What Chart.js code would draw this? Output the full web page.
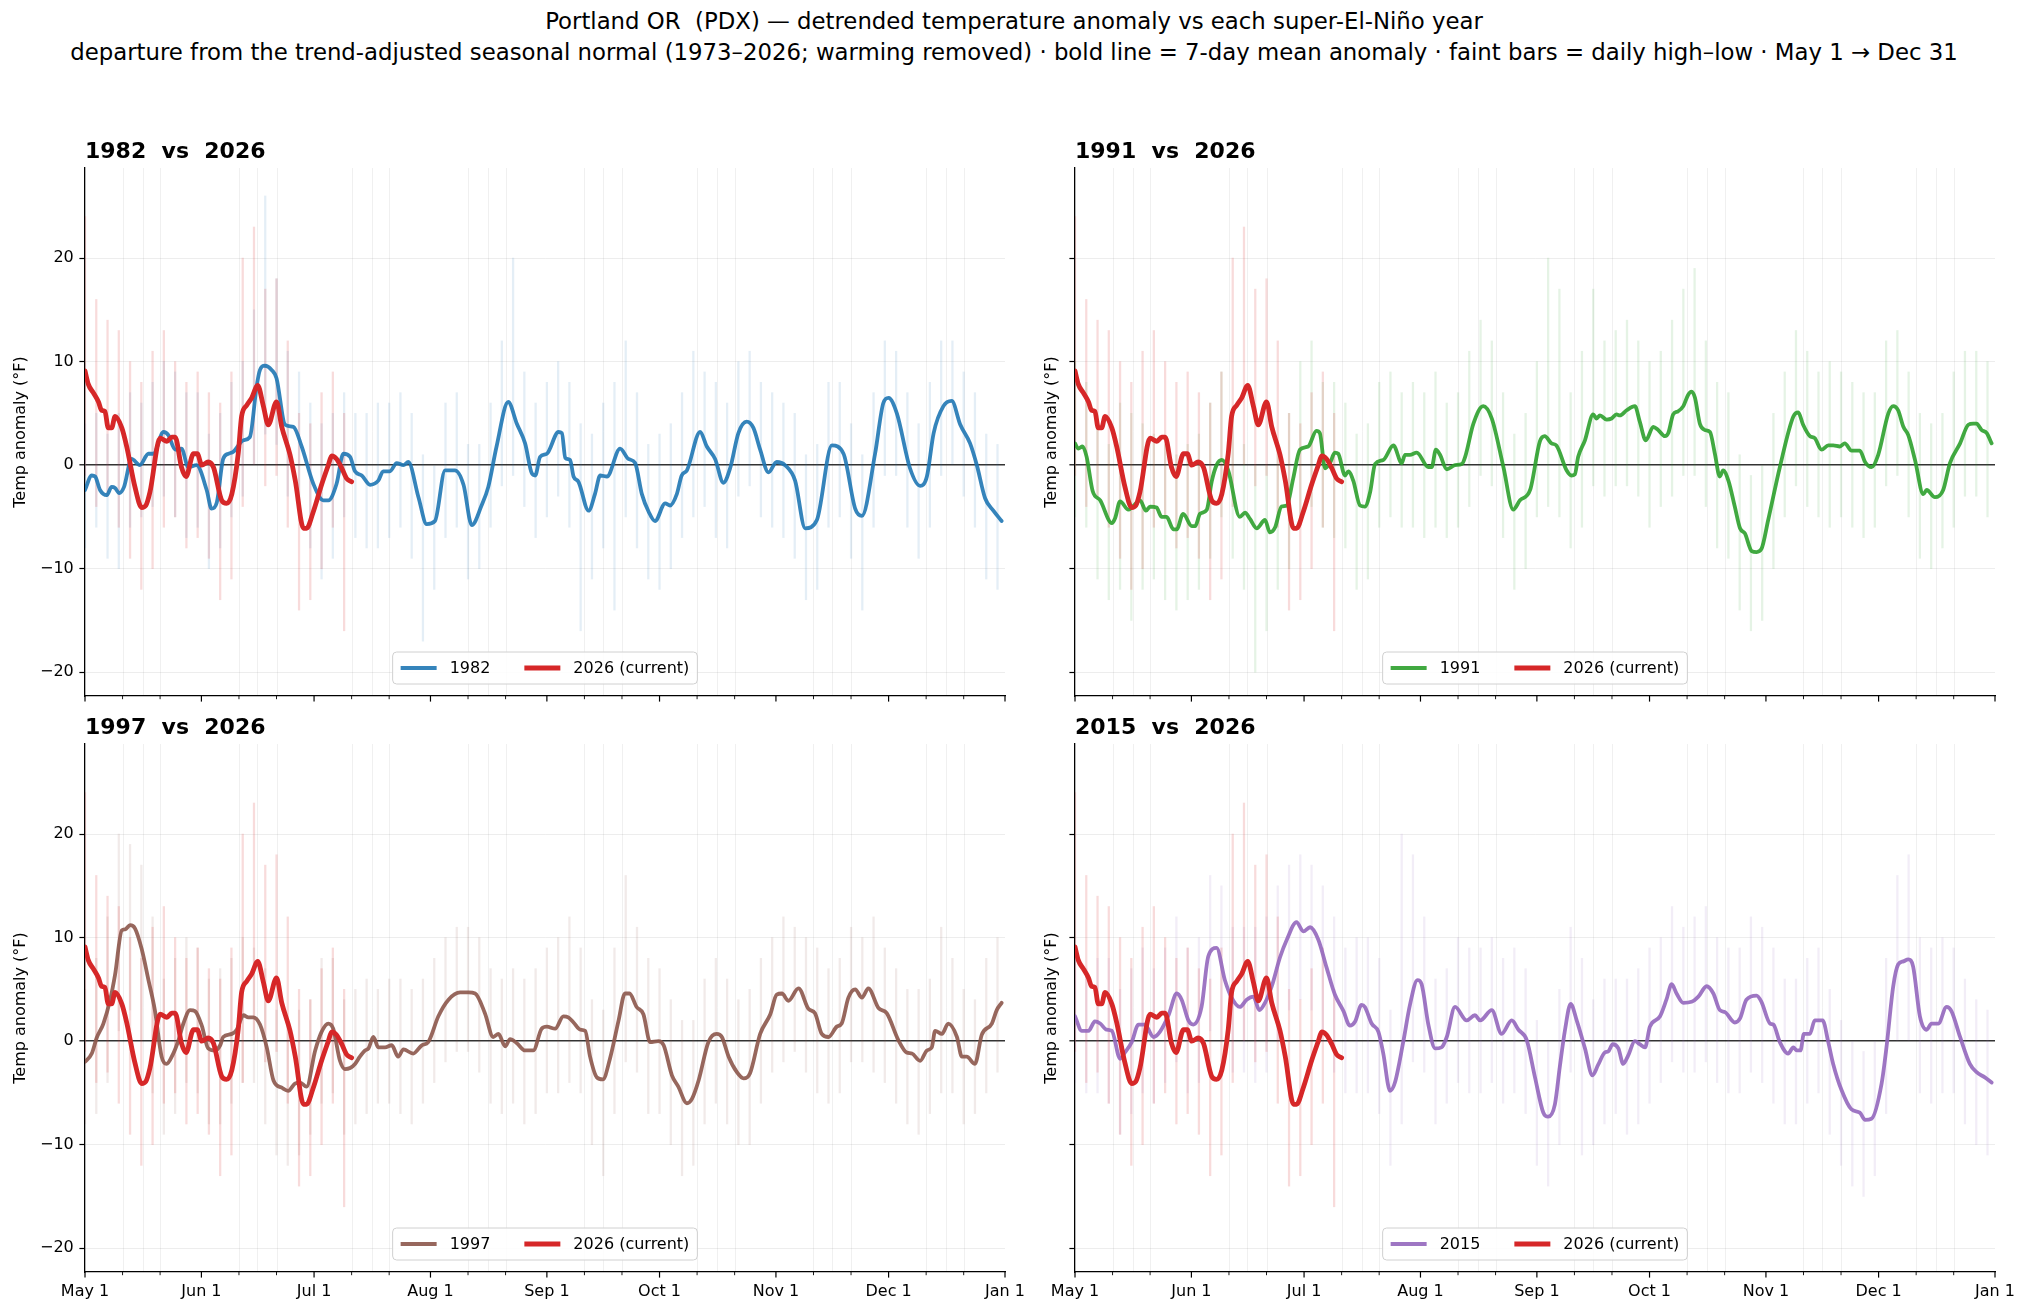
<!DOCTYPE html>
<html>
<head>
<meta charset="utf-8">
<script src="https://cdn.jsdelivr.net/npm/chart.js@4.4.1/dist/chart.umd.min.js"></script>
<style>
  html, body { margin: 0; padding: 0; background: #fff; }
  body { width: 2028px; height: 1312px; position: relative; overflow: hidden; font-family: "DejaVu Sans", sans-serif; }
  .sup { position: absolute; left: 0; width: 2028px; text-align: center; font-size: 22.8px; line-height: 27px; color: #000; white-space: pre; }
  canvas { position: absolute; }
</style>
</head>
<body>
<div class="sup" style="top:8px">Portland OR  (PDX) — detrended temperature anomaly vs each super-El-Niño year</div>
<div class="sup" style="top:39px">departure from the trend-adjusted seasonal normal (1973–2026; warming removed) · bold line = 7-day mean anomaly · faint bars = daily high–low · May 1 → Dec 31</div>
<canvas id="p1982"></canvas>
<canvas id="p1991"></canvas>
<canvas id="p1997"></canvas>
<canvas id="p2015"></canvas>
<script>
/* ---- axis ticks (day 0 = May 1) ---- */
const monthDays = [0, 31, 61, 92, 123, 153, 184, 214, 245];
const monthLabels = ['May 1', 'Jun 1', 'Jul 1', 'Aug 1', 'Sep 1', 'Oct 1', 'Nov 1', 'Dec 1', 'Jan 1'];
const minorDays = [10, 20, 41, 51, 71, 81, 102, 112, 133, 143, 163, 173, 194, 204, 224, 234];
const yTicks = [-20, -10, 0, 10, 20];
const Y_MIN = -22.3, Y_MAX = 28.7;

/* ---- 7-day mean anomaly, [day, °F] ---- */
const line2026 = [[0,9.1],[0.9,7.8],[2.2,7.0],[3.6,6.1],[4.4,5.3],[5.3,5.2],[6.2,3.6],[7.1,3.6],[8,4.7],[9.8,3.6],[11.1,1.8],[13.3,-2.1],[15.1,-4.1],[16.2,-3.9],[17.3,-2.6],[20,2.6],[21.8,2.3],[23.1,2.7],[24,2.7],[25.7,-0.2],[26.9,-1.1],[28.9,1.1],[29.9,1.1],[31.1,0],[32.8,0.3],[34.2,-0.2],[36.4,-3.4],[37.7,-3.7],[39.1,-2.8],[40.8,1.1],[41.7,4.7],[43.1,5.8],[44.4,6.5],[46,7.7],[47.5,5.7],[48.8,3.9],[51,6.1],[52.4,3.7],[54.6,1.0],[56,-1.5],[58.2,-6.1],[59,-6.1],[60.8,-4.5],[63,-1.9],[64.8,0],[65.7,0.9],[67,0.6],[68.4,-0.3],[69.7,-1.3],[71,-1.6]];

const line1982 = [[0,-2.4],[1.8,-1.0],[2.7,-1.1],[4,-2.4],[5.8,-2.9],[7.1,-2.1],[8,-2.2],[9.1,-2.7],[10.4,-2.1],[12.4,0.6],[14.6,0],[16.9,1.1],[18.2,1.1],[20.9,3.2],[22.2,2.9],[24,1.5],[25.7,1.6],[27.5,-0.2],[29.7,0],[32.4,-2.4],[33.7,-4.2],[35.1,-3.6],[36.8,0.6],[38.2,1.1],[39.5,1.3],[42.2,2.4],[43.9,2.7],[45.7,7.6],[46.6,9.2],[47.9,9.6],[49.7,9.2],[51,8.4],[53.3,3.9],[55.5,3.7],[57.7,1.8],[60.8,-1.8],[63.5,-3.4],[64.8,-3.4],[67,-1.8],[68.8,1.1],[70.6,0.8],[71.9,-0.6],[73.7,-1.0],[75.9,-1.9],[78.1,-1.5],[79.4,-0.6],[81.2,-0.6],[83,0.2],[84.8,0],[86.1,0.3],[88.8,-3.1],[91,-5.7],[93.2,-5.4],[95.9,-0.5],[98.5,-0.5],[100.8,-1.9],[103,-5.8],[105.6,-3.9],[107.4,-2.1],[109.6,1.8],[112.7,6.1],[115,4.0],[117.2,2.1],[119,-0.8],[119.9,-1.0],[121.2,0.8],[123,1.1],[126.1,3.2],[127,3.1],[127.9,0.7],[129.2,0.5],[130.1,-1.1],[131.4,-1.6],[134.1,-4.4],[135.8,-2.8],[137.2,-1.0],[139,-1.1],[142.5,1.6],[144.7,0.6],[146.5,0.2],[148.3,-2.8],[150.1,-4.5],[151.8,-5.4],[154.5,-3.7],[155.8,-3.9],[157.6,-2.8],[158.9,-1.0],[160.3,-0.5],[163.8,3.2],[165.6,1.8],[167.8,0.6],[170,-1.7],[171.8,-0.3],[174,3.1],[176.2,4.2],[178,3.6],[179.8,1.5],[182,-0.7],[184.2,0.3],[186.4,0],[189.1,-1.5],[191.8,-6.1],[194.9,-5.3],[198.9,1.9],[202,1.1],[205.1,-4.2],[206.9,-4.9],[210.4,1.1],[212.6,6.0],[214,6.5],[216.2,5.0],[219.7,-0.3],[222.4,-2.0],[224.2,-1.1],[226,3.1],[228.6,5.7],[230.8,6.2],[233.1,3.9],[235.7,2.1],[237.5,0],[239.7,-3.2],[241.9,-4.4],[244.1,-5.4]];

const line1991 = [[0,2.1],[0.9,1.6],[2,1.8],[3.1,0.8],[4.7,-2.5],[6.7,-3.4],[9.8,-5.6],[10.7,-5.1],[12,-3.5],[14.2,-4.3],[15.1,-4.1],[17.3,-3.4],[18.9,-4.4],[20,-4.0],[21.7,-4.1],[23.1,-5.0],[24.4,-5.0],[26.2,-6.2],[27.1,-6.2],[28.8,-4.7],[31.1,-5.9],[32,-5.9],[33.3,-4.7],[35.1,-4.3],[36.4,-1.6],[37.7,0],[39.1,0.5],[40.8,-0.5],[43.9,-5.0],[45.3,-4.6],[46.6,-5.2],[48.4,-6.1],[50.6,-5.3],[51.9,-6.5],[53.3,-6.0],[55,-4.0],[56.4,-3.9],[58.1,-1.3],[59.9,1.5],[62.1,1.8],[64.3,3.3],[65.2,3.1],[66.6,-0.3],[67.9,0.2],[69.2,1.2],[70.1,1.1],[71.9,-1.0],[72.8,-0.6],[74.1,-1.5],[75.9,-3.9],[77.2,-4.0],[78.6,-2.6],[79.9,0.1],[82.1,0.5],[84.8,1.9],[87,0.2],[87.9,1.0],[89.2,1.0],[91,1.2],[94.1,-0.2],[95,-0.2],[96.1,1.5],[97.2,1.0],[99,-0.4],[101.2,0],[103,0.1],[103.9,0.8],[106.1,4.0],[108.7,5.7],[111,4.5],[114.1,-0.2],[116.7,-4.3],[118.5,-3.4],[121.2,-2.4],[123.8,2.3],[125.1,2.8],[126.9,2.1],[128.2,1.9],[130.9,-0.5],[132.2,-1.0],[133.1,-0.9],[134,0.8],[135.8,2.4],[138,4.9],[138.9,4.5],[139.8,4.8],[141.6,4.4],[142.9,4.5],[144.2,4.9],[145.1,4.8],[146.9,5.3],[149.1,5.7],[150.4,4.2],[152,2.4],[154,3.7],[155.3,3.4],[157.1,2.8],[158,3.1],[159.3,4.9],[160.6,5.2],[162,5.7],[163.3,6.8],[164.2,7.1],[165.1,6.5],[166.4,4.0],[167.7,3.4],[169.1,3.2],[170.4,1.1],[171.7,-1.1],[172.6,-0.5],[174,-1.5],[175.7,-4.0],[177.1,-6.1],[178.4,-6.6],[180.2,-8.3],[181.5,-8.4],[182.8,-8.1],[184.6,-5.3],[187.7,-0.2],[191.3,4.7],[192.6,5.1],[193.9,3.9],[195.7,2.8],[197,2.6],[198.8,1.5],[200.6,1.9],[201.9,1.9],[203.7,1.8],[205,2.1],[206.8,1.4],[209,1.4],[210.4,0.3],[212.1,-0.2],[213.9,1.0],[216.6,5.0],[217.9,5.7],[219.2,5.3],[220.6,3.7],[221.9,2.9],[223.7,0.5],[225.9,-2.8],[226.8,-2.4],[229,-3.1],[231.2,-2.4],[233,0.2],[235.7,2.1],[237.9,3.9],[239.2,4.0],[240.1,4.0],[241.4,3.4],[242.8,3.1],[244.1,2.1]];

const line1997 = [[0,-2.0],[1.8,-1.2],[3.1,0.3],[4.9,1.7],[6.7,4.0],[8,6.4],[9.8,10.7],[10.7,10.8],[12,11.2],[13.3,10.9],[15.1,8.9],[16.9,5.9],[18.6,3.0],[20.4,-1.5],[21.7,-2.2],[23.5,-1.2],[24.9,0.1],[26.2,1.7],[28,3.0],[29.3,2.9],[31.1,1.5],[32.8,-0.7],[34.6,-0.9],[36,-0.4],[36.8,0.4],[39.1,0.7],[40.4,1.1],[42.2,2.5],[43.5,2.3],[44.8,2.3],[46.6,1.6],[48.4,-0.6],[50.2,-3.8],[52.4,-4.5],[54.1,-4.8],[55.9,-4.1],[57.3,-4.0],[59,-4.4],[61.3,-0.9],[63,0.9],[64.8,1.7],[66.1,1.2],[67.9,-1.9],[69.2,-2.7],[70.6,-2.6],[71.9,-2.2],[73.2,-1.5],[74.6,-0.9],[75.5,-0.7],[76.8,0.4],[78.1,-0.6],[79.9,-0.6],[81.7,-0.4],[83.4,-1.5],[84.8,-0.8],[87.4,-1.2],[89.7,-0.4],[91.4,-0.1],[94.1,2.4],[96.8,4.0],[99.9,4.7],[102.1,4.7],[103.9,4.6],[106.5,2.7],[108.7,0.4],[110.1,0.7],[111.9,-0.5],[113.2,0.2],[115,-0.2],[117.2,-0.9],[119.4,-0.9],[121.6,1.2],[123,1.4],[125.2,1.2],[127.4,2.4],[128.7,2.3],[130.1,1.8],[131.9,1.1],[133.2,1.0],[134.5,-1.5],[136.3,-3.5],[137.9,-3.7],[139.8,-1.7],[142.1,2.0],[143.8,4.6],[145,4.6],[146.9,3.3],[148.7,2.6],[150.5,-0.1],[152.7,0],[154.1,-0.4],[156.3,-3.3],[158,-4.4],[160.3,-6.0],[161.6,-5.6],[163.4,-3.8],[166,-0.1],[168.2,0.7],[169.6,0.4],[171.4,-1.5],[173.6,-3.0],[175.4,-3.6],[177.1,-3.1],[179.8,0.7],[182.5,2.6],[184.2,4.5],[185.6,4.6],[187.3,3.9],[190,5.1],[192.7,3.1],[194.4,2.7],[196.2,0.7],[198,0.4],[200.2,1.4],[201.5,1.7],[203.3,4.2],[205.1,5.0],[206.9,4.2],[208.6,5.1],[211.3,3.2],[213.5,2.7],[216.6,0.1],[218.8,-1.1],[220.2,-1.2],[222.4,-1.9],[224.2,-0.9],[225.5,-0.6],[226.4,1.0],[228.2,0.7],[229.9,1.7],[232.2,0.4],[233.5,-1.5],[234.8,-1.5],[237,-2.2],[238.8,0.6],[241.5,1.7],[242.8,3.0],[244.1,3.7]];

const line2015 = [[0,2.4],[1.8,1.0],[3.6,1.0],[5.3,1.9],[6.7,1.7],[8.4,1.1],[9.8,1.0],[12,-1.7],[13.3,-1.1],[15.1,-0.1],[16.9,1.6],[18.6,1.6],[20.9,0.4],[22.6,0.9],[24.9,2.5],[27.1,4.6],[28.4,4.0],[30.2,2.0],[31.5,1.6],[33.7,3.3],[35.5,8.2],[37.7,9.0],[39.9,5.9],[41.7,4.2],[43.9,3.3],[45.7,4.0],[47.5,4.3],[49.1,3.0],[50.6,3.7],[52.4,5.3],[54.6,8.1],[56.4,9.8],[59,11.5],[60.8,10.6],[62.6,11.0],[64.8,9.8],[67,7.1],[69.2,4.5],[71.5,2.9],[73.2,1.5],[74.6,1.9],[76.3,3.5],[77.2,3.3],[79,1.7],[80.8,0.9],[82.1,-1.2],[83.9,-4.8],[85.2,-4.0],[87.4,-0.1],[89.2,3.5],[91.2,5.9],[92.3,5.5],[94.1,1.6],[95.9,-0.7],[97.6,-0.6],[99,0.4],[101.2,3.3],[104.3,2.0],[106.5,2.5],[107.9,2.0],[111,3.0],[113.6,0.7],[116.3,2.0],[118.1,1.1],[120.3,0.1],[122.5,-3.5],[124.7,-6.9],[126,-7.3],[127.8,-6.1],[129.1,-2.5],[130.5,1.1],[132,3.6],[133.6,2.0],[135.8,-0.7],[137.8,-3.3],[139.3,-2.3],[141.1,-1.1],[142,-1.0],[143.2,-0.3],[144.7,-0.7],[146,-2.2],[147.3,-1.4],[149.1,0],[150.4,-0.3],[151.8,-0.6],[153.1,1.4],[155.8,2.4],[157.5,4.0],[158.9,5.5],[160.2,4.6],[162,3.7],[164.2,3.8],[166,4.3],[168.2,5.3],[170,4.6],[171.7,3.0],[173.1,2.8],[175.7,1.8],[177.1,2.2],[178.8,4.0],[181.5,4.4],[182.8,3.8],[185.1,1.7],[186,1.6],[187.7,-0.1],[189.9,-1.2],[191.3,-0.6],[192.2,-0.9],[193.2,-0.9],[194.1,0.7],[195.7,0.7],[197,2.0],[199.1,2.0],[200.6,-0.1],[201.9,-2.2],[204.1,-4.7],[206.8,-6.6],[209,-6.9],[210.4,-7.6],[212.1,-7.5],[214.8,-4.1],[216.1,-0.6],[217.9,5.3],[219.2,7.4],[220.6,7.7],[221.9,7.9],[223.2,7.2],[225,2.4],[226.8,1.1],[228.1,1.7],[229.9,1.7],[232.1,3.3],[233.4,2.9],[235.7,0.4],[238.3,-2.2],[240.1,-3.0],[242.3,-3.5],[244.1,-4.0]];

/* ---- daily high–low anomaly bars (sampled every 3rd day) ---- */
const barDays = [0,3,6,9,12,15,18,21,24,27,30,33,36,39,42,45,48,51,54,57,60,63,66,69,72,75,78,81,84,87,90,93,96,99,102,105,108,111,114,117,120,123,126,129,132,135,138,141,144,147,150,153,156,159,162,165,168,171,174,177,180,183,186,189,192,195,198,201,204,207,210,213,216,219,222,225,228,231,234,237,240,243];

const lo2026 = [-1,-4,-3,-6,-9,-12,-10,-6,-5,-8,-7,-9,-13,-11,-4,0,-2,-1,-6,-14,-13,-10,-6,-16];
const hi2026 = [24,16,14,13,10,8,11,13,10,8,9,7,6,9,20,23,17,18,12,5,4,7,9,5];

const lo1982 = [-8,-6,-9,-10,-6,-5,-4,-3,-5,-7,-6,-10,-8,-5,-3,0,3,2,-3,-4,-8,-11,-9,-5,-7,-8,-8,-7,-6,-9,-17,-12,-7,-6,-11,-10,-6,-2,-1,-4,-7,-5,-3,-6,-16,-11,-8,-14,-5,-8,-11,-12,-10,-7,-5,-4,-7,-8,-3,-2,-5,-6,-7,-9,-13,-12,-6,-5,-9,-14,-6,-1,-1,-6,-9,-6,-1,0,-3,-6,-11,-12];
const hi1982 = [4,5,3,5,7,6,8,10,9,7,7,3,5,8,10,15,26,18,11,9,6,4,5,7,5,5,6,6,7,5,1,0,6,7,2,2,6,12,20,9,6,8,10,8,4,3,6,8,12,7,2,3,4,7,11,9,8,6,10,11,8,7,6,5,1,2,8,8,4,1,7,12,11,7,4,8,12,12,9,7,3,2];

const lo1991 = [-5,-6,-11,-13,-12,-15,-12,-11,-13,-14,-13,-12,-9,-5,-9,-12,-20,-16,-12,-10,-5,-4,-6,-7,-8,-12,-11,-6,-5,-6,-6,-7,-6,-7,-6,-4,-1,-2,-7,-12,-10,-5,-4,-5,-8,-6,-2,-3,-2,-2,-3,-6,-4,-3,-1,-1,-4,-8,-9,-14,-16,-15,-10,-5,-2,-4,-5,-6,-5,-6,-7,-6,-2,-1,-5,-9,-10,-8,-6,-3,-3,-5];
const hi1991 = [10,8,4,2,6,5,4,3,2,1,2,3,6,9,5,2,0,0,2,5,10,12,8,8,6,3,4,8,9,7,8,7,9,6,7,11,14,12,7,3,5,10,20,17,7,11,17,12,13,14,12,10,11,14,17,19,12,8,7,1,-1,0,5,9,13,11,9,10,9,8,7,7,12,13,9,5,4,5,9,11,11,10];

const lo1997 = [-8,-7,-4,1,3,0,-5,-9,-7,-4,-5,-8,-8,-6,-4,-4,-8,-11,-12,-11,-9,-6,-5,-9,-8,-7,-6,-6,-7,-8,-6,-4,-2,-1,-1,-3,-6,-7,-6,-8,-7,-5,-5,-4,-5,-10,-13,-7,-2,-3,-7,-7,-10,-13,-12,-8,-6,-8,-10,-10,-6,-3,-2,-1,-3,-5,-6,-5,-2,-2,-3,-4,-6,-8,-9,-7,-5,-5,-8,-7,-5,-3];
const hi1997 = [5,8,12,20,19,17,12,6,8,10,9,6,7,8,10,9,7,3,2,3,4,8,8,4,5,6,5,6,6,5,6,8,10,11,11,10,7,6,7,6,7,9,10,12,9,4,3,9,16,11,8,7,4,2,2,6,8,6,4,5,8,10,12,11,10,9,7,8,11,10,12,9,7,5,5,6,11,8,5,4,8,10];

const lo2015 = [-4,-5,-5,-6,-9,-7,-5,-6,-4,-2,-5,-4,1,0,-3,-3,-4,-3,0,3,4,3,1,-3,-5,-5,-5,-7,-12,-8,-2,-3,-8,-6,-4,-5,-5,-4,-6,-5,-7,-12,-14,-10,-3,-11,-10,-8,-7,-9,-8,-6,-4,-2,-3,-3,-2,-4,-5,-5,-3,-4,-6,-8,-8,-6,-5,-9,-12,-14,-15,-13,-7,0,0,-5,-6,-5,-5,-8,-10,-11];
const hi2015 = [9,7,8,8,5,7,9,7,9,12,9,10,16,15,11,11,11,12,15,17,18,17,15,12,9,10,10,8,3,20,18,12,6,7,10,9,9,10,8,9,7,2,0,5,11,8,4,6,6,6,7,9,10,13,11,12,13,10,9,9,12,11,9,6,6,8,9,5,2,0,-1,0,8,16,18,10,9,10,9,6,4,3];

const RED = '#d62728';
const FONT = '"DejaVu Sans", sans-serif';

const panels = [
  { id: 'p1982', year: '1982', color: '#1f77b4', line: line1982, lo: lo1982, hi: hi1982, left: 85,   top: 168, showX: false, showY: true,  yTitlePad: 11 },
  { id: 'p1991', year: '1991', color: '#2ca02c', line: line1991, lo: lo1991, hi: hi1991, left: 1075, top: 168, showX: false, showY: false, yTitlePad: 52 },
  { id: 'p1997', year: '1997', color: '#8c564b', line: line1997, lo: lo1997, hi: hi1997, left: 85,   top: 744, showX: true,  showY: true,  yTitlePad: 11 },
  { id: 'p2015', year: '2015', color: '#9467bd', line: line2015, lo: lo2015, hi: hi2015, left: 1075, top: 744, showX: true,  showY: false, yTitlePad: 52 },
];

function rgba(hex, a) {
  const n = parseInt(hex.slice(1), 16);
  return `rgba(${n >> 16},${(n >> 8) & 255},${n & 255},${a})`;
}
const toXY = pairs => pairs.map(([x, y]) => ({ x, y }));
const fmtY = v => (v < 0 ? '\u2212' + Math.abs(v) : String(v));

// subplot title, x tick marks (major + minor) and the in-axes legend
const panelDeco = {
  id: 'panelDeco',
  beforeDatasetsDraw(chart) {
    const { ctx, chartArea: a, scales: { x } } = chart;
    ctx.save();
    ctx.strokeStyle = 'rgba(0,0,0,0.06)';
    ctx.lineWidth = 1;
    minorDays.forEach(d => {
      const px = Math.round(x.getPixelForValue(d)) + 0.5;
      ctx.beginPath(); ctx.moveTo(px, a.top); ctx.lineTo(px, a.bottom); ctx.stroke();
    });
    ctx.restore();
  },
  afterDraw(chart, args, opts) {
    const { ctx, chartArea: a, scales: { x } } = chart;
    ctx.save();
    ctx.strokeStyle = '#000';
    const tick = (d, len, w) => {
      const px = x.getPixelForValue(d);
      ctx.lineWidth = w;
      ctx.beginPath(); ctx.moveTo(px, a.bottom); ctx.lineTo(px, a.bottom + len); ctx.stroke();
    };
    monthDays.forEach(d => tick(d, 5.6, 1.2));
    minorDays.forEach(d => tick(d, 3.2, 0.9));

    ctx.fillStyle = '#000';
    ctx.font = 'bold 22px ' + FONT;
    ctx.textAlign = 'left';
    ctx.textBaseline = 'middle';
    ctx.fillText(opts.title, a.left, a.top - 15.5);

    // legend
    ctx.font = '16px ' + FONT;
    const t1 = opts.label, t2 = '2026 (current)';
    const w1 = ctx.measureText(t1).width, w2 = ctx.measureText(t2).width;
    const pad = 8, sw = 36, gap = 13, colsp = 34, H = 32;
    const W = pad + sw + gap + w1 + colsp + sw + gap + w2 + pad;
    const bx = (a.left + a.right) / 2 - W / 2, by = a.bottom - 12 - H, r = 4;
    ctx.beginPath();
    ctx.moveTo(bx + r, by);
    ctx.arcTo(bx + W, by, bx + W, by + H, r);
    ctx.arcTo(bx + W, by + H, bx, by + H, r);
    ctx.arcTo(bx, by + H, bx, by, r);
    ctx.arcTo(bx, by, bx + W, by, r);
    ctx.closePath();
    ctx.fillStyle = 'rgba(255,255,255,0.85)';
    ctx.fill();
    ctx.strokeStyle = '#d0d0d0';
    ctx.lineWidth = 1;
    ctx.stroke();
    const my = by + H / 2;
    let cx = bx + pad;
    ctx.lineCap = 'butt';
    ctx.strokeStyle = opts.color; ctx.lineWidth = 3.8;
    ctx.beginPath(); ctx.moveTo(cx, my); ctx.lineTo(cx + sw, my); ctx.stroke();
    cx += sw + gap;
    ctx.fillStyle = '#000';
    ctx.fillText(t1, cx, my + 1);
    cx += w1 + colsp;
    ctx.strokeStyle = RED; ctx.lineWidth = 4.8;
    ctx.beginPath(); ctx.moveTo(cx, my); ctx.lineTo(cx + sw, my); ctx.stroke();
    cx += sw + gap;
    ctx.fillText(t2, cx, my + 1);
    ctx.restore();
  }
};

function makePanel(p) {
  const cv = document.getElementById(p.id);
  const W = 85 + 920 + 30, H = 40 + 528 + 40;
  cv.width = W; cv.height = H;
  cv.style.left = (p.left - 85) + 'px';
  cv.style.top = (p.top - 40) + 'px';

  const yearBars = barDays.map((d, i) => ({ x: d, y: [p.lo[i], p.hi[i]] }));
  const bars2026 = barDays.slice(0, lo2026.length).map((d, i) => ({ x: d, y: [lo2026[i], hi2026[i]] }));

  new Chart(cv, {
    type: 'line',
    data: {
      datasets: [
        { label: '2026 (current)', data: toXY(line2026), borderColor: RED, borderWidth: 4.8,
          pointRadius: 0, cubicInterpolationMode: 'monotone', borderJoinStyle: 'round', borderCapStyle: 'round', order: 0 },
        { label: p.year, data: toXY(p.line), borderColor: rgba(p.color, 0.9), borderWidth: 3.8,
          pointRadius: 0, cubicInterpolationMode: 'monotone', borderJoinStyle: 'round', borderCapStyle: 'round', order: 1 },
        { type: 'bar', label: '2026 range', data: bars2026, backgroundColor: rgba(RED, 0.17),
          barThickness: 1.6, grouped: false, borderWidth: 0, order: 2 },
        { type: 'bar', label: p.year + ' range', data: yearBars, backgroundColor: rgba(p.color, 0.12),
          barThickness: 1.6, grouped: false, borderWidth: 0, order: 3 },
      ]
    },
    options: {
      responsive: false,
      animation: false,
      devicePixelRatio: 1,
      layout: { padding: { left: 0, top: 40, right: 30, bottom: 0 } },
      plugins: {
        legend: { display: false },
        tooltip: { enabled: false },
        panelDeco: { title: p.year + '  vs  2026', label: p.year, color: rgba(p.color, 0.9) }
      },
      scales: {
        x: {
          type: 'linear', min: 0, max: 245, offset: false,
          afterBuildTicks: s => { s.ticks = monthDays.map(v => ({ value: v })); },
          afterFit: s => { s.height = 40; },
          ticks: {
            autoSkip: false, maxRotation: 0, minRotation: 0, padding: 10, color: '#000',
            font: { family: FONT, size: 16 },
            callback: v => (p.showX ? monthLabels[monthDays.indexOf(v)] || '' : '')
          },
          grid: { color: 'rgba(0,0,0,0.06)', lineWidth: 1, drawTicks: false },
          border: { display: true, color: '#000', width: 1.3 }
        },
        y: {
          min: Y_MIN, max: Y_MAX,
          afterBuildTicks: s => { s.ticks = yTicks.map(v => ({ value: v })); },
          afterFit: s => { s.width = 85; },
          ticks: {
            padding: 5.6, color: '#000', font: { family: FONT, size: 16 },
            callback: v => (p.showY ? fmtY(v) : '')
          },
          grid: {
            color: c => (c.tick && c.tick.value === 0 ? '#333' : 'rgba(0,0,0,0.07)'),
            lineWidth: c => (c.tick && c.tick.value === 0 ? 1.6 : 1),
            tickColor: '#000', tickLength: 5.6, tickWidth: 1.2
          },
          border: { display: true, color: '#000', width: 1.3 },
          title: {
            display: true, text: 'Temp anomaly (°F)', color: '#000',
            font: { family: FONT, size: 16 }, padding: { top: p.yTitlePad, bottom: 0 }
          }
        }
      }
    },
    plugins: [panelDeco]
  });
}

panels.forEach(makePanel);
</script>
</body>
</html>
